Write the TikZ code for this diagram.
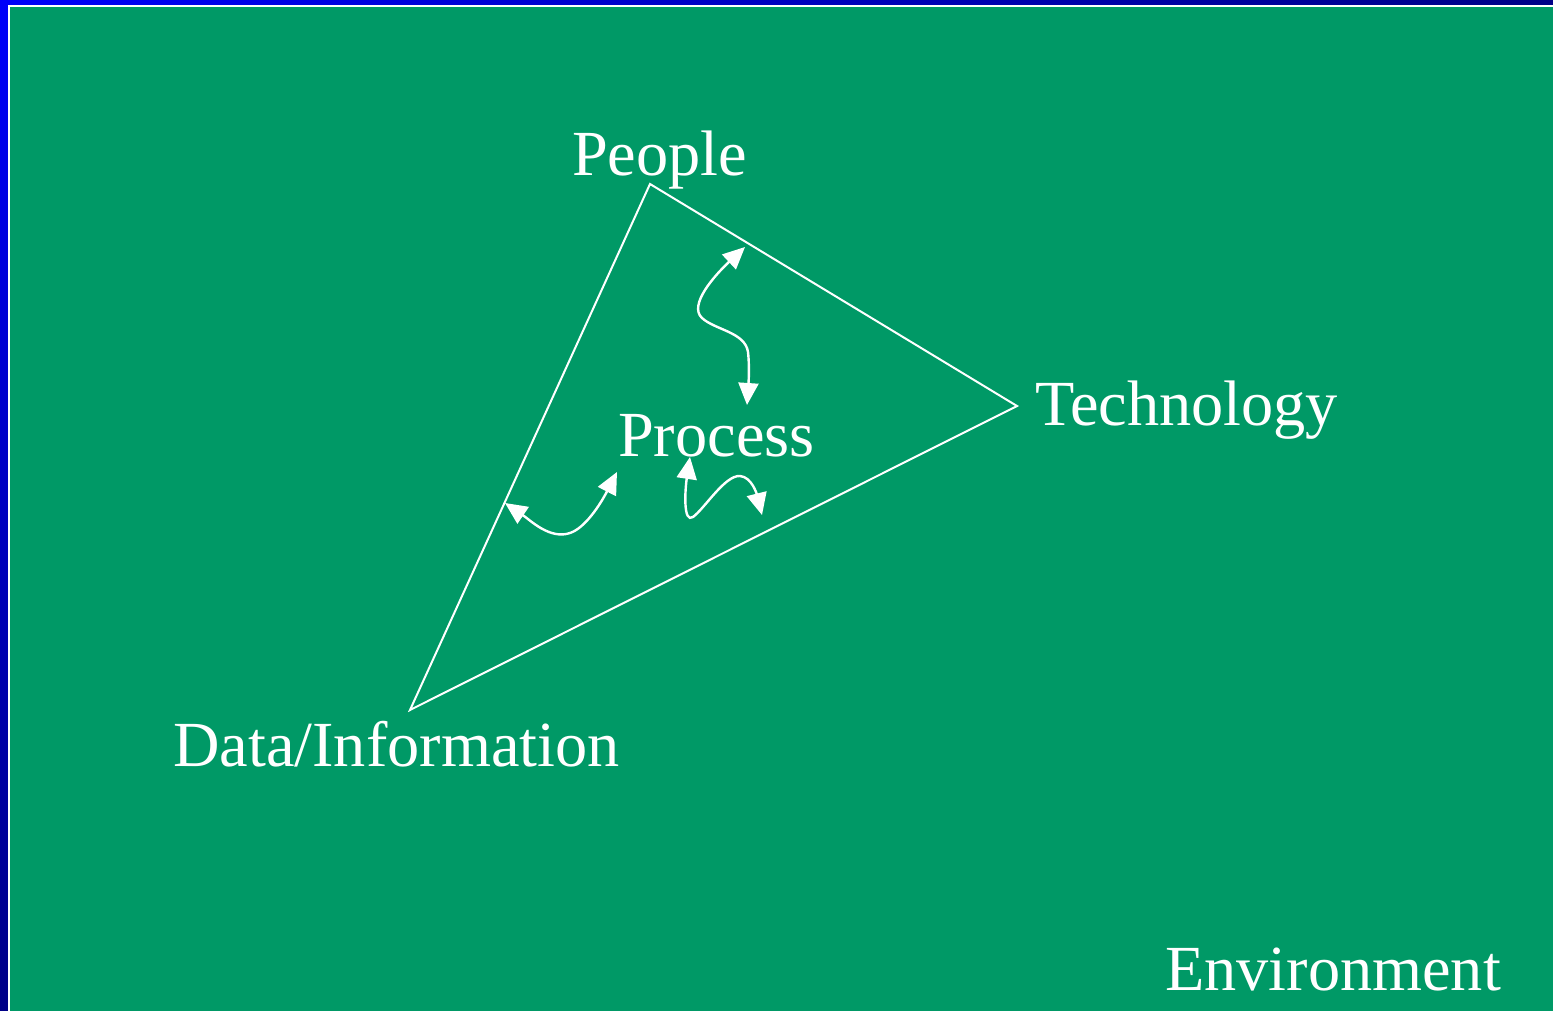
\documentclass[tikz,border=0pt]{standalone}
\usepackage{fontspec}
\setmainfont{Liberation Serif}
\usetikzlibrary{arrows.meta,shadings}
\definecolor{slidegreen}{RGB}{0,153,102}
\definecolor{framebright}{RGB}{0,0,250}
\definecolor{framedark}{RGB}{0,0,135}
\begin{document}
\begin{tikzpicture}[x=1pt,y=-1pt,
  label/.style={text=white,font=\fontsize{64.3}{64}\selectfont,inner sep=0pt,anchor=base west},
  edge/.style={draw=white,line width=2pt,line join=miter},
  link/.style={draw=white,line width=2.4pt,{Triangle[length=22pt,width=20pt]}-{Triangle[length=22pt,width=20pt]}}]
  \useasboundingbox (0,0) rectangle (1553,1011);
  % frame
  \shade[upper left=framebright,upper right=framedark,lower left=framedark,lower right=framedark]
    (0,0) rectangle (1553,1011);
  \fill[white] (8,5) rectangle (1553,1011);
  \fill[slidegreen] (10,7) rectangle (1553,1011);
  % corners of the triangle
  \coordinate (P) at (650,184);
  \coordinate (T) at (1017,406);
  \coordinate (D) at (410,710);
  \draw[edge] (P) -- (T) -- (D) -- cycle;
  % labels
  \node[label] (people) at (572,176) {People};
  \node[label] (tech) at (1035,425) {Technology};
  \node[label] (proc) at (618,456) {Process};
  \node[label] (data) at (173,766) {Data/Information};
  \node[label] (env) at (1165,990) {Environment};
  % interaction arrows
  \coordinate (a1) at (745,247);
  \coordinate (a2) at (747,405);
  \coordinate (b1) at (505,503);
  \coordinate (b2) at (617,472);
  \coordinate (c1) at (690,457);
  \coordinate (c2) at (762,515);
  \draw[link] (a1) .. controls (715,275) and (688,305) .. (702,318)
    .. controls (715,330) and (745,332) .. (748,352)
    .. controls (750,370) and (748,390) .. (a2);
  \draw[link] (b1) .. controls (530,520) and (550,540) .. (570,533)
    .. controls (585,528) and (600,505) .. (b2);
  \draw[link] (c1) .. controls (685,490) and (683,524) .. (693,517)
    .. controls (705,508) and (725,475) .. (740,476)
    .. controls (752,477) and (757,495) .. (c2);
\end{tikzpicture}
\end{document}
